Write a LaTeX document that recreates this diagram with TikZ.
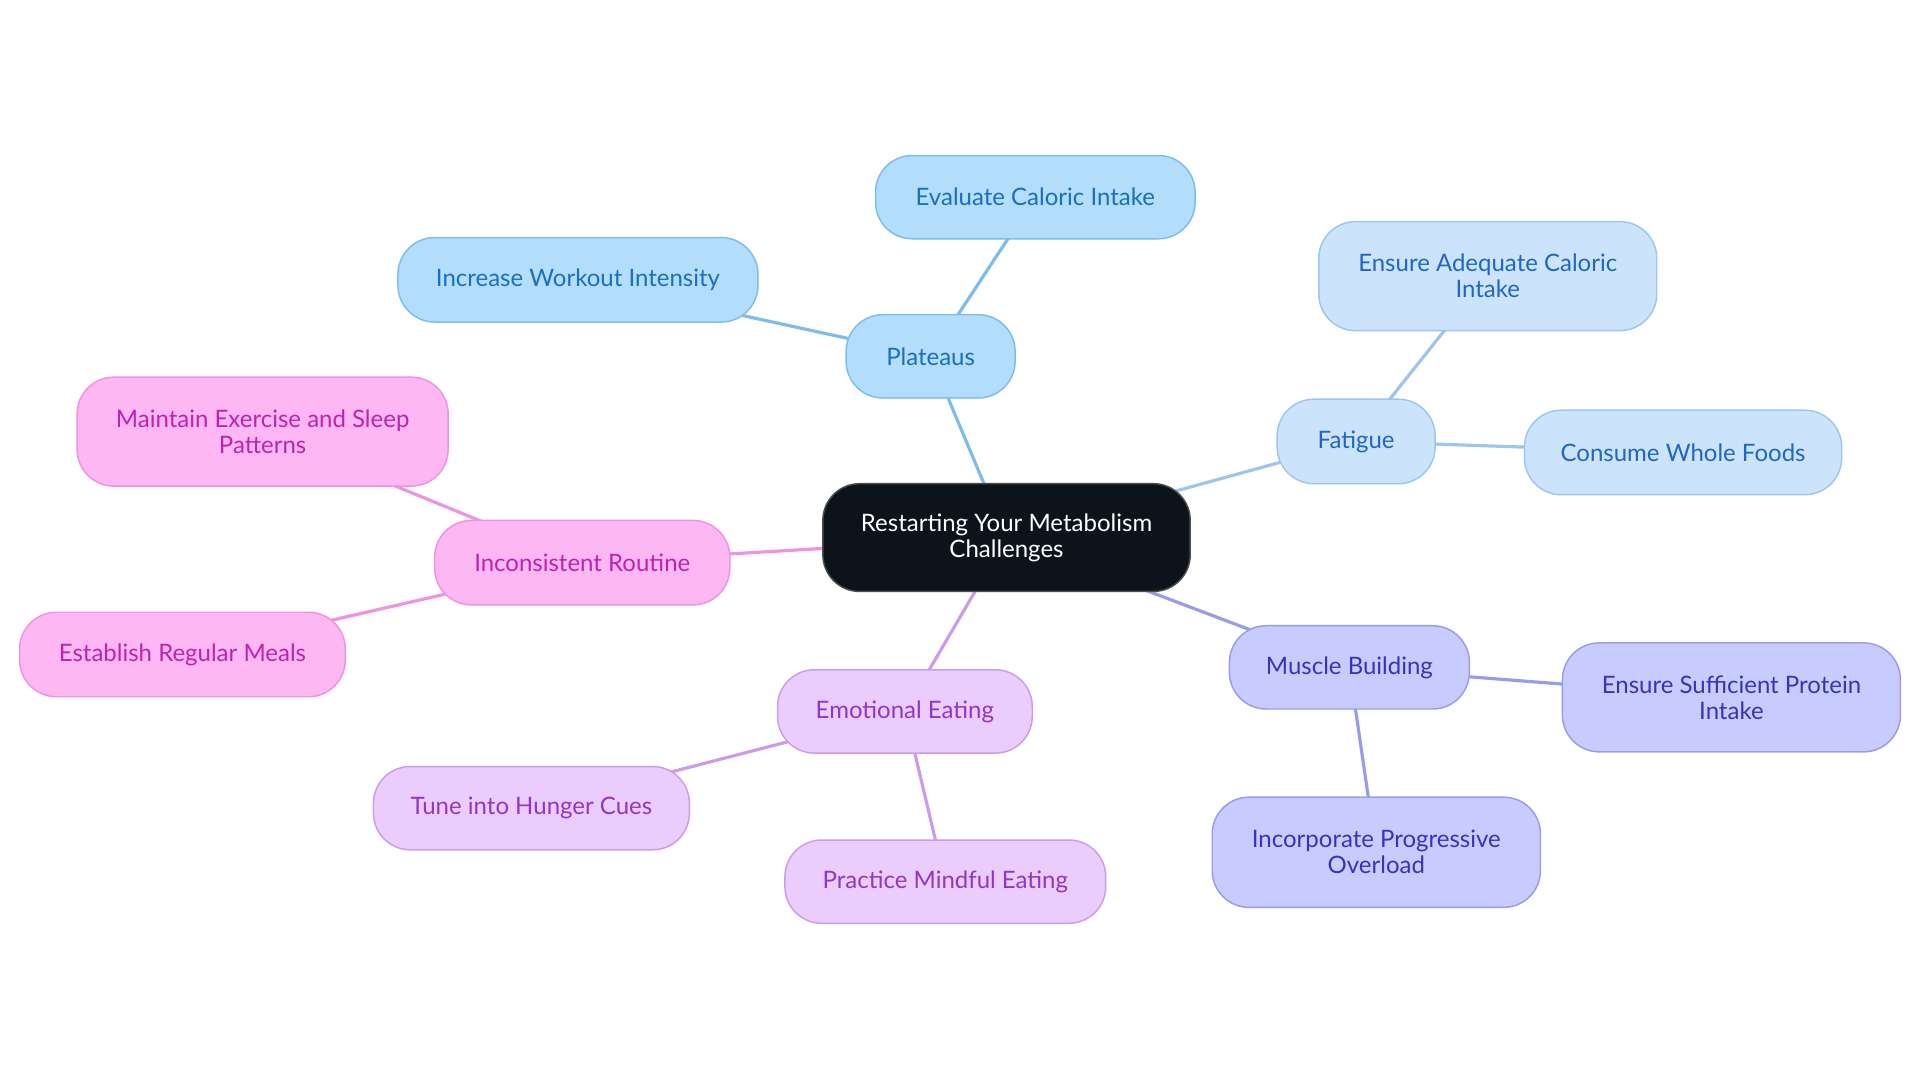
\documentclass[tikz,border=0pt]{standalone}
\usepackage{fontspec}
\setmainfont{Lato}
\usetikzlibrary{backgrounds}
\definecolor{blF}{HTML}{B3DEFB}\definecolor{blD}{HTML}{7DBDEB}\definecolor{blT}{HTML}{1A6FC0}
\definecolor{lbF}{HTML}{CCE4FB}\definecolor{lbD}{HTML}{9EC5EF}\definecolor{lbT}{HTML}{2066C4}
\definecolor{mvF}{HTML}{C8CBFD}\definecolor{mvD}{HTML}{9A9BEB}\definecolor{mvT}{HTML}{3A32BE}
\definecolor{puF}{HTML}{EBCDFD}\definecolor{puD}{HTML}{CC9BEA}\definecolor{puT}{HTML}{9236C8}
\definecolor{pkF}{HTML}{FDB7F3}\definecolor{pkD}{HTML}{EE93DD}\definecolor{pkT}{HTML}{C022B0}
\definecolor{ctrF}{HTML}{0D131A}
\tikzset{
  box/.style={rounded corners=30pt, inner sep=0pt, align=center, line width=1.2pt,
    font=\fontsize{19.6}{21.2}\selectfont},
  bl/.style={box, fill=blF, draw=blD, text=blT},
  lb/.style={box, fill=lbF, draw=lbD, text=lbT},
  mv/.style={box, fill=mvF, draw=mvD, text=mvT},
  pu/.style={box, fill=puF, draw=puD, text=puT},
  pk/.style={box, fill=pkF, draw=pkD, text=pkT},
  ctr/.style={box, fill=ctrF, draw=gray!60!black, text=white},
  sz/.style 2 args={minimum width=#1pt, minimum height=#2pt},
  link/.style={line width=2.6pt}
}
\begin{document}
\begin{tikzpicture}[x=1pt,y=-1pt]
\useasboundingbox (0,0) rectangle (1568,884.4);
\node[ctr, sz={300}{88}] (c) at (822,439) {Restarting Your Metabolism\\Challenges};
\node[bl, sz={138}{68}] (plat) at (760,291) {Plateaus};
\node[bl, sz={261}{68}] (eval) at (845.5,161) {Evaluate Caloric Intake};
\node[bl, sz={294}{69}] (incr) at (472,228.5) {Increase Workout Intensity};
\node[lb, sz={129}{69}] (fat) at (1107.5,360.5) {Fatigue};
\node[lb, sz={276}{89}] (ensure) at (1215,225.5) {Ensure Adequate Caloric\\Intake};
\node[lb, sz={259}{69}] (consume) at (1374.5,369.5) {Consume Whole Foods};
\node[mv, sz={196}{68}] (muscle) at (1102,545) {Muscle Building};
\node[mv, sz={276}{89}] (protein) at (1414,569.5) {Ensure Sufficient Protein\\Intake};
\node[mv, sz={268}{90}] (overload) at (1124,696) {Incorporate Progressive\\Overload};
\node[pu, sz={208}{68}] (emo) at (739,581) {Emotional Eating};
\node[pu, sz={258}{68}] (tune) at (434,660) {Tune into Hunger Cues};
\node[pu, sz={262}{68}] (mindful) at (772,720) {Practice Mindful Eating};
\node[pk, sz={241}{69}] (incons) at (475.5,459.5) {Inconsistent Routine};
\node[pk, sz={303}{89}] (maintain) at (214.5,352.5) {Maintain Exercise and Sleep\\Patterns};
\node[pk, sz={266}{69}] (establish) at (149,534.5) {Establish Regular Meals};
\begin{scope}[on background layer]
\draw[link, blD] (c.center) -- (plat.center);
\draw[link, blD] (plat.center) -- (eval.center);
\draw[link, blD] (plat.center) -- (incr.center);
\draw[link, lbD] (c.center) -- (fat.center);
\draw[link, lbD] (fat.center) -- (ensure.center);
\draw[link, lbD] (fat.center) -- (consume.center);
\draw[link, mvD] (c.center) -- (muscle.center);
\draw[link, mvD] (muscle.center) -- (protein.center);
\draw[link, mvD] (muscle.center) -- (overload.center);
\draw[link, puD] (c.center) -- (emo.center);
\draw[link, puD] (emo.center) -- (tune.center);
\draw[link, puD] (emo.center) -- (mindful.center);
\draw[link, pkD] (c.center) -- (incons.center);
\draw[link, pkD] (incons.center) -- (maintain.center);
\draw[link, pkD] (incons.center) -- (establish.center);
\end{scope}
\end{tikzpicture}
\end{document}
